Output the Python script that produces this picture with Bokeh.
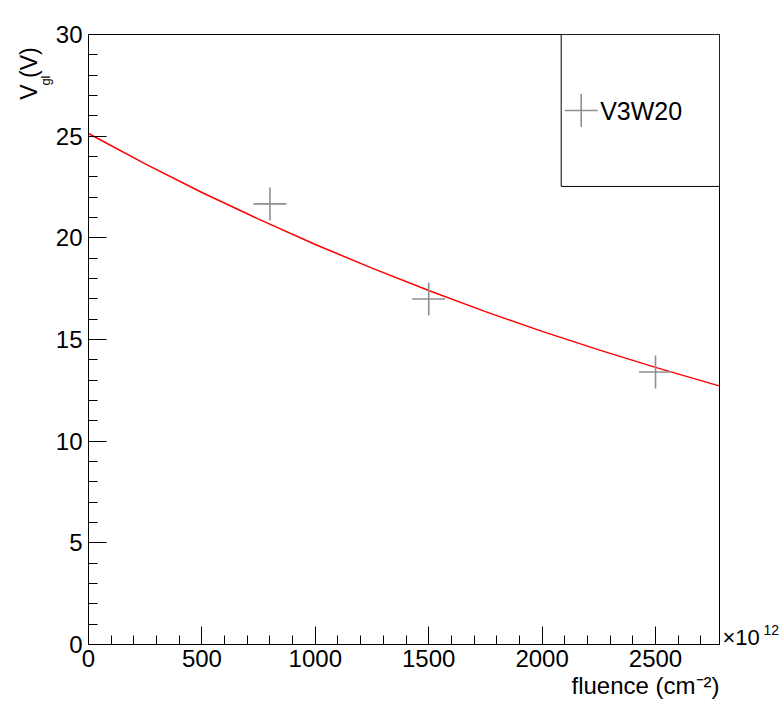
import math
from bokeh.plotting import figure
from bokeh.models import (Label, Range1d, SingleIntervalTicker, FixedTicker,
                          ColumnDataSource, Title, LinearAxis)
from bokeh.embed import file_html
from bokeh.resources import INLINE

# ---- data ----
fluence = [800, 1500, 2500]          # x10^12 cm^-2
vgl = [21.67, 16.99, 13.40]          # V
fit_fluence = [0, 250, 500, 750, 1000, 1250, 1500, 1750, 2000, 2250, 2500, 2780]
fit_vgl = [25.13, 23.64, 22.23, 20.92, 19.67, 18.51, 17.41, 16.37, 15.40, 14.49, 13.63, 12.72]
series_name = "V3W20"
x_title = "fluence (cm\u207b\u00b2)"
x_exp_base = "\u00d710"
x_exp_power = "12"

FONT = "Liberation Sans"
XMAX = 2782
YMAX = 30

p = figure(width=783, height=717, output_backend="svg", toolbar_location=None,
           x_range=Range1d(0, XMAX), y_range=Range1d(0, YMAX),
           min_border_left=88, min_border_right=64, min_border_top=34, min_border_bottom=73)
p.background_fill_color = "white"
p.border_fill_color = "white"
p.outline_line_color = "black"
p.outline_line_width = 1
p.xgrid.visible = False
p.ygrid.visible = False

p.xaxis.ticker = SingleIntervalTicker(interval=500, num_minor_ticks=5)
p.yaxis.ticker = SingleIntervalTicker(interval=5, num_minor_ticks=5)
for ax in (p.xaxis[0], p.yaxis[0]):
    ax.major_tick_in = 18
    ax.major_tick_out = 0
    ax.minor_tick_in = 9
    ax.minor_tick_out = 0
    ax.axis_line_color = "black"
    ax.major_tick_line_color = "black"
    ax.minor_tick_line_color = "black"
    ax.major_label_text_font = FONT
    ax.major_label_text_font_size = "24px"
    ax.major_label_text_color = "black"
p.xaxis.major_label_standoff = 5
p.yaxis.major_label_standoff = 6

# fit curve
p.line(fit_fluence, fit_vgl, line_color="#ff0000", line_width=1.5)

# data points
src = ColumnDataSource(dict(x=fluence, y=vgl))
p.scatter("x", "y", source=src, marker="cross", size=33, line_color="#8f8f8f", line_width=1.6)

# legend box
sx = XMAX / 631.0
sy = YMAX / 610.3
def dx(px):
    return (px - 88.3) * sx
def dy(py):
    return (644.3 - py) * sy

p.quad(left=[dx(561)], right=[XMAX], bottom=[dy(186)], top=[YMAX],
       fill_color="white", line_color="black", line_width=1)
p.scatter([dx(581)], [dy(110)], marker="cross", size=33, line_color="#8f8f8f", line_width=1.6)
p.add_layout(Label(x=dx(600), y=dy(111), text=series_name, text_font=FONT, text_color="black",
                   text_font_size="25px", text_baseline="middle", text_align="left"))

# x axis title (right aligned, ROOT style)
p.add_layout(Title(text=x_title, align="right", text_font=FONT,
                   text_font_size="24px", text_font_style="normal", text_color="black",
                   standoff=0), "below")

# x exponent as label-only axes on the right
def label_axis(pos, text, size, standoff):
    ax = LinearAxis(ticker=FixedTicker(ticks=[pos]), major_label_overrides={pos: text})
    ax.axis_line_color = None
    ax.major_tick_line_color = None
    ax.minor_tick_line_color = None
    ax.major_tick_out = 0
    ax.major_tick_in = 0
    ax.major_label_standoff = standoff
    ax.major_label_text_font = FONT
    ax.major_label_text_font_size = size
    ax.major_label_text_color = "black"
    p.add_layout(ax, "right")

label_axis(dy(637), x_exp_base, "22px", 3)
label_axis(dy(630), x_exp_power, "14px", 1)

# y axis title: subscript part next to the axis, main part outside
p.add_layout(Title(text="gl", align="right", offset=41, text_font=FONT,
                   text_font_size="13px", text_font_style="normal", text_color="black",
                   standoff=0), "left")
p.add_layout(Title(text="V   (V)", align="right", offset=0, text_font=FONT,
                   text_font_size="23px", text_font_style="normal", text_color="black",
                   standoff=-13), "left")

open("out.html", "w").write(file_html(p, INLINE))
